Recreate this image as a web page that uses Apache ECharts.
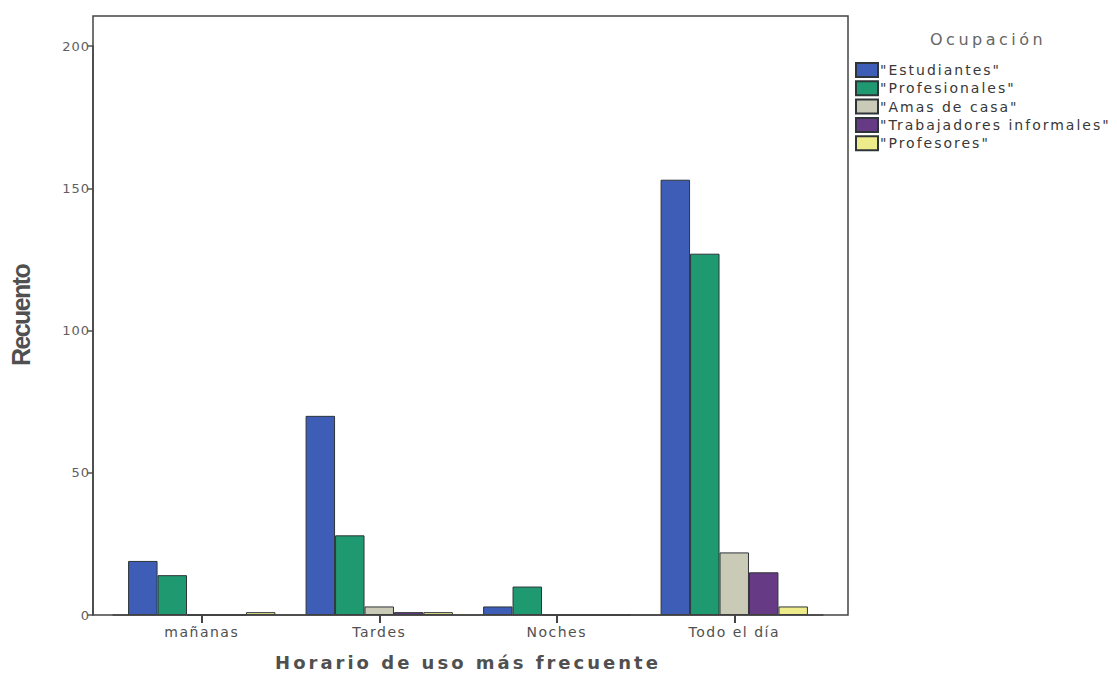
<!DOCTYPE html>
<html>
<head>
<meta charset="utf-8">
<script src="https://cdn.jsdelivr.net/npm/echarts@6/dist/echarts.min.js"></script>
<style>
  html, body { margin: 0; padding: 0; background: #ffffff; }
  #chart { width: 1117px; height: 678px; }
</style>
</head>
<body>
<div id="chart"></div>
<script>
// Horario de uso por ocupación (recuentos)
const categories = ['mañanas', 'Tardes', 'Noches', 'Todo el día'];
const occupations = ['"Estudiantes"', '"Profesionales"', '"Amas de casa"', '"Trabajadores informales"', '"Profesores"'];
const estudiantes   = [19, 70, 3, 153];
const profesionales = [14, 28, 10, 127];
const amasDeCasa    = [0, 3, 0, 22];
const trabajadores  = [0, 1, 0, 15];
const profesores    = [1, 1, 0, 3];
const yTicks = [0, 50, 100, 150, 200];

const legendTitle = 'Ocupación';
const xTitle = 'Horario de uso más frecuente';
const yTitle = 'Recuento';

const seriesValues = [estudiantes, profesionales, amasDeCasa, trabajadores, profesores];
const colors = ['#3d5db6', '#1f9a70', '#c9cbb6', '#673a86', '#eeec8a'];

const chart = echarts.init(document.getElementById('chart'), null, { renderer: 'svg' });

chart.setOption({
  animation: false,
  backgroundColor: '#ffffff',
  title: {
    text: legendTitle,
    left: 930,
    top: 31,
    padding: 0,
    textStyle: { fontFamily: 'DejaVu Sans', fontSize: 16, fontWeight: 'normal', color: '#666666' }
  },
  legend: {
    data: occupations,
    orient: 'vertical',
    left: 855,
    top: 62,
    padding: 0,
    itemWidth: 22,
    itemHeight: 14,
    itemGap: 2.3,
    icon: 'rect',
    textStyle: { fontFamily: 'DejaVu Sans', fontSize: 14, color: '#383838', padding: [0, 0, 0, -3] }
  },
  grid: { left: 113, right: 294, top: 46, bottom: 63 },
  xAxis: {
    type: 'category',
    data: categories,
    name: xTitle,
    nameLocation: 'middle',
    nameGap: 38,
    nameTextStyle: { fontFamily: 'DejaVu Sans', fontSize: 18, fontWeight: 'bold', color: '#505050' },
    axisLine: { show: true, lineStyle: { color: '#444444', width: 1.5 } },
    axisTick: { show: true, alignWithLabel: true, length: 8, lineStyle: { color: '#444444', width: 2 } },
    axisLabel: { fontFamily: 'DejaVu Sans', fontSize: 14, color: '#505050', margin: 10 },
    splitLine: { show: false }
  },
  yAxis: {
    type: 'value',
    min: yTicks[0],
    max: yTicks[yTicks.length - 1],
    interval: 50,
    offset: 20,
    name: yTitle,
    nameLocation: 'middle',
    nameRotate: 90,
    nameGap: 60,
    nameTextStyle: { fontFamily: 'Liberation Sans', fontSize: 25, fontWeight: 'bold', color: '#505050', padding: [0, 0, 0, 30] },
    axisLine: { show: true, lineStyle: { color: '#444444', width: 1.5 } },
    axisTick: { show: true, length: 6, lineStyle: { color: '#555555', width: 1.5 } },
    axisLabel: { fontFamily: 'DejaVu Sans', fontSize: 13, color: '#606060', margin: 3 },
    splitLine: { show: false }
  },
  graphic: [{
    type: 'rect',
    shape: { x: 93, y: 16, width: 755, height: 599 },
    style: { fill: 'none', stroke: '#444444', lineWidth: 1.5 },
    silent: true,
    z: 10
  }],
  series: occupations.map((name, i) => ({
    name: name,
    type: 'bar',
    data: seriesValues[i],
    barGap: '0%',
    barCategoryGap: '17%',
    itemStyle: { color: colors[i], borderColor: '#2e3438', borderWidth: 1 }
  }))
});

// Wide, letter-spaced lettering for the labels (condensed for the y title)
const spacing = new Map();
occupations.forEach(t => spacing.set(t, '2px'));
categories.forEach(t => spacing.set(t, '1.5px'));
yTicks.forEach(t => spacing.set(String(t), '1px'));
spacing.set(legendTitle, '3.5px');
spacing.set(xTitle, '3px');
spacing.set(yTitle, '-1.6px');

function applySpacing() {
  document.querySelectorAll('#chart svg text').forEach(el => {
    const s = spacing.get(el.textContent);
    if (s) el.setAttribute('letter-spacing', s);
  });
}
applySpacing();
chart.on('finished', applySpacing);
</script>
</body>
</html>
